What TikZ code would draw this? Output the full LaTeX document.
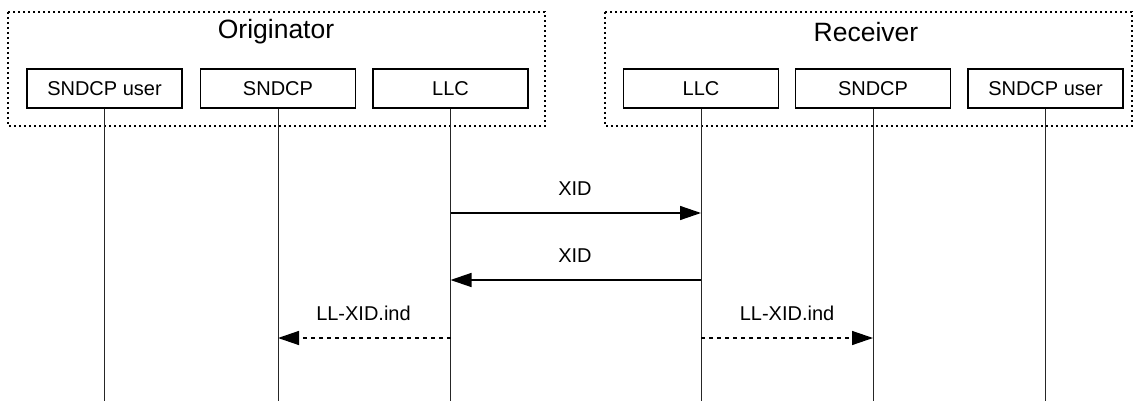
\documentclass[tikz,border=0pt]{standalone}
\usepackage{fontspec}
\setmainfont{Liberation Sans}
\usetikzlibrary{arrows.meta}
\begin{document}
\begin{tikzpicture}[x=1pt,y=-1pt,
  entity/.style={draw,line width=1.3pt,minimum width=155pt,minimum height=39pt,inner sep=0pt,font=\fontsize{20}{22}\selectfont},
  group/.style={draw,line width=1.8pt,dash pattern=on 1.8pt off 3.2pt},
  grouptitle/.style={font=\fontsize{26.5}{30}\selectfont},
  lifeline/.style={line width=0.7pt,draw=black!85},
  msg/.style={line width=1.4pt,-{Triangle[length=21pt,width=14pt]}},
  ind/.style={msg,dash pattern=on 4pt off 4pt},
  lbl/.style={font=\fontsize{20}{22}\selectfont}]
\useasboundingbox (0,0) rectangle (1135,401);
% groups
\draw[group] (8,12) rectangle (545,126);
\draw[group] (605,12) rectangle (1132,126);
\node[grouptitle] (orig) at (276,32) {Originator};
\node[grouptitle] (recv) at (866,32) {Receiver};
% entities
\node[entity] (ou) at (104.5,88.5) {SNDCP user};
\node[entity] (os) at (278,88.5) {SNDCP};
\node[entity] (ol) at (450.5,88.5) {LLC};
\node[entity] (rl) at (701,88.5) {LLC};
\node[entity] (rs) at (873,88.5) {SNDCP};
\node[entity] (ru) at (1045.5,88.5) {SNDCP user};
% lifeline ends
\foreach \n in {ou,os,ol,rl,rs,ru} {
  \coordinate (\n-end) at (\n.south |- 0,401);
  \draw[lifeline] (\n.south) -- (\n-end);
}
% message points
\coordinate (m1a) at (ol.south |- 0,213);
\coordinate (m1b) at (rl.south |- 0,213);
\coordinate (m2a) at (rl.south |- 0,280);
\coordinate (m2b) at (ol.south |- 0,280);
\coordinate (m3a) at (ol.south |- 0,338);
\coordinate (m3b) at (os.south |- 0,338);
\coordinate (m4a) at (rl.south |- 0,338);
\coordinate (m4b) at (rs.south |- 0,338);
\draw[msg] (m1a) -- (m1b);
\draw[msg] (m2a) -- (m2b);
\draw[ind] (m3a) -- (m3b);
\draw[ind] (m4a) -- (m4b);
\node[lbl] (l1) at (575,189) {XID};
\node[lbl] (l2) at (575,256) {XID};
\node[lbl] (l3) at (363.5,313) {LL-XID.ind};
\node[lbl] (l4) at (787,313) {LL-XID.ind};
\end{tikzpicture}
\end{document}
